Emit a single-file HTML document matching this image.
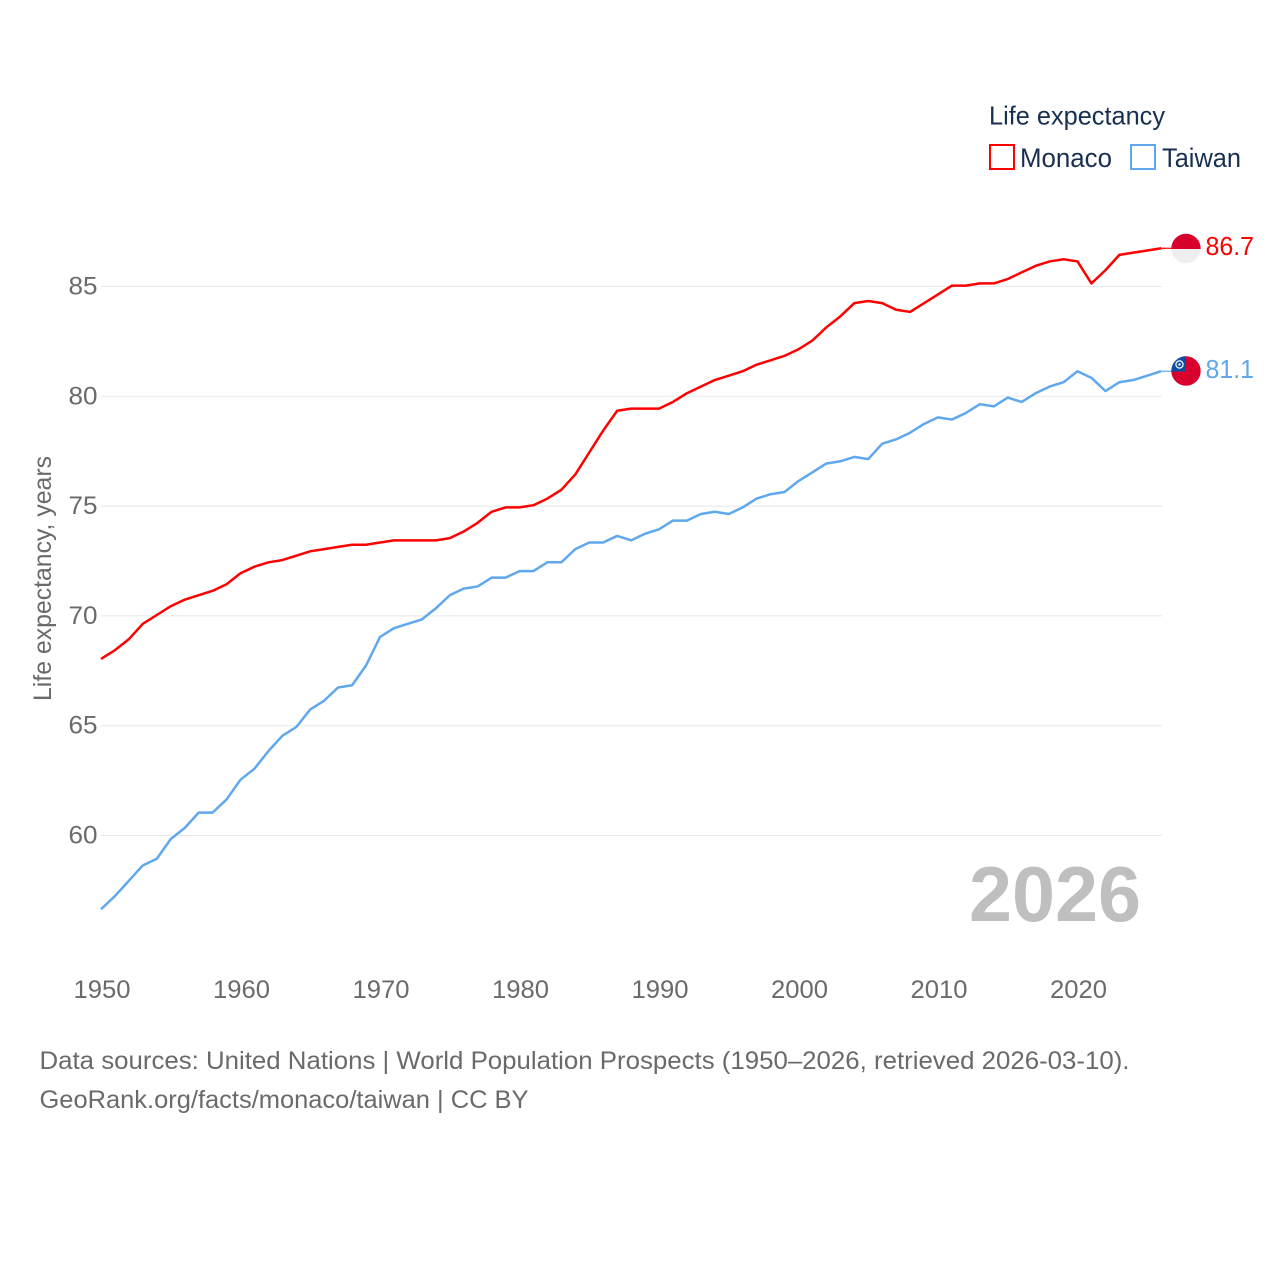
<!DOCTYPE html>
<html lang="en">
<head>
<meta charset="utf-8">
<title>Life expectancy: Monaco vs Taiwan</title>
<style>
html,body{margin:0;padding:0;background:#fff;}
svg{display:block;}
text{font-family:"Liberation Sans",sans-serif;}
</style>
</head>
<body>
<svg id="chart" xmlns="http://www.w3.org/2000/svg" width="1280" height="1280" viewBox="0 0 1280 1280">
  <rect x="0" y="0" width="1280" height="1280" fill="#ffffff"/>
  <g id="grid"></g>
  <g id="yticks"></g>
  <g id="xticks"></g>
  <text transform="translate(51,701) rotate(-90)" font-size="25" fill="#6a6a6a" textLength="245" lengthAdjust="spacingAndGlyphs">Life expectancy, years</text>

  <text x="989" y="124.5" font-size="26" fill="#18304f" textLength="176" lengthAdjust="spacingAndGlyphs">Life expectancy</text>
  <rect x="990" y="145" width="24" height="24" fill="none" stroke="#ff0000" stroke-width="2"/>
  <text x="1020" y="167" font-size="27" fill="#18304f" textLength="92" lengthAdjust="spacingAndGlyphs">Monaco</text>
  <rect x="1131" y="145" width="24" height="24" fill="none" stroke="#5fa8ee" stroke-width="2"/>
  <text x="1162" y="167" font-size="27" fill="#18304f" textLength="79" lengthAdjust="spacingAndGlyphs">Taiwan</text>

  <text x="969" y="921" font-size="78" font-weight="bold" fill="#bfbfbf" textLength="172" lengthAdjust="spacingAndGlyphs">2026</text>

  <polyline id="line-monaco" fill="none" stroke="#ff0000" stroke-width="2.5" stroke-linejoin="round"/>
  <polyline id="line-taiwan" fill="none" stroke="#5fa8ee" stroke-width="2.5" stroke-linejoin="round"/>
  <line id="conn-monaco" stroke="#ff0000" stroke-width="1.2"/>
  <line id="conn-taiwan" stroke="#5fa8ee" stroke-width="1.2"/>

  <defs>
    <clipPath id="clip-mc"><circle cx="1186" cy="248.5" r="14.7"/></clipPath>
    <clipPath id="clip-tw"><circle cx="1186" cy="371" r="14.7"/></clipPath>
  </defs>
  <g id="flag-monaco" clip-path="url(#clip-mc)">
    <rect x="1171" y="233" width="30" height="16" fill="#d8002c"/>
    <rect x="1171" y="249" width="30" height="15" fill="#eeeeee"/>
  </g>
  <g id="flag-taiwan" clip-path="url(#clip-tw)">
    <rect x="1171" y="356" width="30" height="30" fill="#d8002c"/>
    <rect x="1171" y="356" width="15" height="15.5" fill="#0b4ea2"/>
    <circle cx="1179.5" cy="364.5" r="3.6" fill="none" stroke="#ffffff" stroke-width="1.2"/>
    <circle cx="1179.5" cy="364.5" r="1.2" fill="#ffffff"/>
  </g>
  <text id="value-monaco" x="1205.5" y="255" font-size="26" fill="#ff0000" textLength="48.5" lengthAdjust="spacingAndGlyphs"></text>
  <text id="value-taiwan" x="1205.5" y="378" font-size="26" fill="#5fa8ee" textLength="48.5" lengthAdjust="spacingAndGlyphs"></text>

  <text x="39.5" y="1069" font-size="25" fill="#6a6a6a" textLength="1090" lengthAdjust="spacingAndGlyphs">Data sources: United Nations | World Population Prospects (1950–2026, retrieved 2026-03-10).</text>
  <text x="39.5" y="1108" font-size="25" fill="#6a6a6a" textLength="489" lengthAdjust="spacingAndGlyphs">GeoRank.org/facts/monaco/taiwan | CC BY</text>
</svg>
<script>
const firstYear = 1950;
const yTickValues = [60, 65, 70, 75, 80, 85];
const xTickValues = [1950, 1960, 1970, 1980, 1990, 2000, 2010, 2020];
const monacoValues = [
  68.0,68.4,68.9,69.6,70.0,70.4,70.7,70.9,71.1,71.4,
  71.9,72.2,72.4,72.5,72.7,72.9,73.0,73.1,73.2,73.2,
  73.3,73.4,73.4,73.4,73.4,73.5,73.8,74.2,74.7,74.9,
  74.9,75.0,75.3,75.7,76.4,77.4,78.4,79.3,79.4,79.4,
  79.4,79.7,80.1,80.4,80.7,80.9,81.1,81.4,81.6,81.8,
  82.1,82.5,83.1,83.6,84.2,84.3,84.2,83.9,83.8,84.2,
  84.6,85.0,85.0,85.1,85.1,85.3,85.6,85.9,86.1,86.2,
  86.1,85.1,85.7,86.4,86.5,86.6,86.7
];
const taiwanValues = [
  56.6,57.2,57.9,58.6,58.9,59.8,60.3,61.0,61.0,61.6,
  62.5,63.0,63.8,64.5,64.9,65.7,66.1,66.7,66.8,67.7,
  69.0,69.4,69.6,69.8,70.3,70.9,71.2,71.3,71.7,71.7,
  72.0,72.0,72.4,72.4,73.0,73.3,73.3,73.6,73.4,73.7,
  73.9,74.3,74.3,74.6,74.7,74.6,74.9,75.3,75.5,75.6,
  76.1,76.5,76.9,77.0,77.2,77.1,77.8,78.0,78.3,78.7,
  79.0,78.9,79.2,79.6,79.5,79.9,79.7,80.1,80.4,80.6,
  81.1,80.8,80.2,80.6,80.7,80.9,81.1
];

function xScale(year) { return 101 + (year - 1950) * (1161.2 - 101) / 76; }
function yScale(v) { return 835.5 - (v - 60) * (835.5 - 286.5) / 25; }
const lineYOffset = -0.9;

const NS = 'http://www.w3.org/2000/svg';
const grid = document.getElementById('grid');
const yticks = document.getElementById('yticks');
const xticks = document.getElementById('xticks');

yTickValues.forEach(function (v) {
  const l = document.createElementNS(NS, 'line');
  
  
  l.setAttribute('x1', 101);
  l.setAttribute('x2', 1162);
  l.setAttribute('y1', yScale(v));
  l.setAttribute('y2', yScale(v));
  l.setAttribute('stroke', '#e8e8e8');
  l.setAttribute('stroke-width', '1');
  grid.appendChild(l);

  const t = document.createElementNS(NS, 'text');
  
  
  t.setAttribute('x', 68.5);
  t.setAttribute('y', yScale(v) + 8);
  t.setAttribute('font-size', '25');
  t.setAttribute('fill', '#6a6a6a');
  t.setAttribute('textLength', '29');
  t.setAttribute('lengthAdjust', 'spacingAndGlyphs');
  t.textContent = v;
  yticks.appendChild(t);
});

xTickValues.forEach(function (y) {
  const t = document.createElementNS(NS, 'text');
  
  
  t.setAttribute('x', xScale(y) - 27.5);
  t.setAttribute('y', 998);
  t.setAttribute('font-size', '25');
  t.setAttribute('fill', '#6a6a6a');
  t.setAttribute('textLength', '57');
  t.setAttribute('lengthAdjust', 'spacingAndGlyphs');
  t.textContent = y;
  xticks.appendChild(t);
});

function toPoints(values) {
  return values.map(function (v, i) {
    return xScale(firstYear + i).toFixed(2) + ',' + (yScale(v) + lineYOffset).toFixed(2);
  }).join(' ');
}

document.getElementById('line-monaco').setAttribute('points', toPoints(monacoValues));
document.getElementById('line-taiwan').setAttribute('points', toPoints(taiwanValues));

function connect(id, values) {
  const el = document.getElementById(id);
  const last = values[values.length - 1];
  const x = xScale(firstYear + values.length - 1);
  el.setAttribute('x1', x);
  el.setAttribute('x2', 1172);
  el.setAttribute('y1', yScale(last) + lineYOffset);
  el.setAttribute('y2', yScale(last) + lineYOffset);
}
connect('conn-monaco', monacoValues);
connect('conn-taiwan', taiwanValues);

document.getElementById('value-monaco').textContent = monacoValues[monacoValues.length - 1].toFixed(1);
document.getElementById('value-taiwan').textContent = taiwanValues[taiwanValues.length - 1].toFixed(1);
</script>
</body>
</html>
